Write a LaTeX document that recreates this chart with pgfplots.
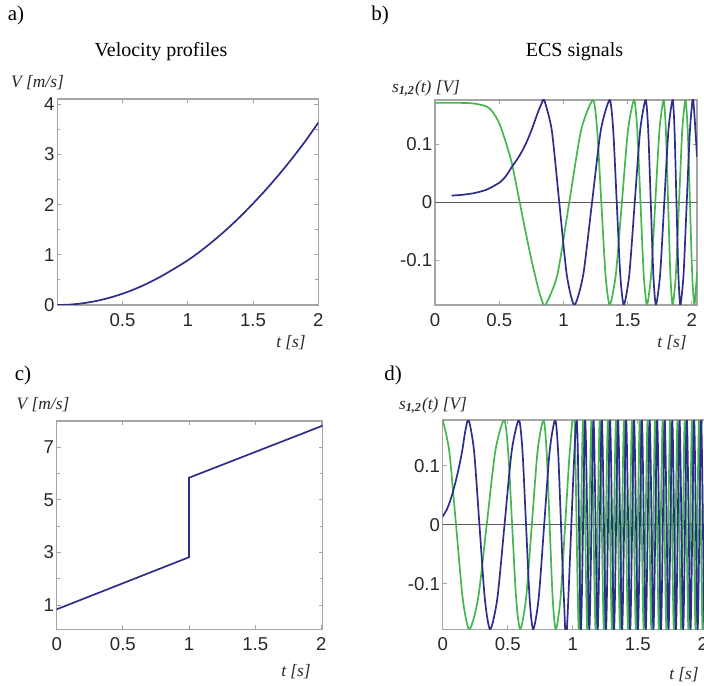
\documentclass[border=0pt]{standalone}
\usepackage{fontspec}
\setmainfont{Liberation Serif}
\setsansfont{Liberation Sans}
\usepackage{pgfplots}
\pgfplotsset{compat=1.18}
\definecolor{sigblue}{RGB}{45,45,140}
\definecolor{siggreen}{RGB}{70,182,80}
\definecolor{boxgray}{RGB}{165,165,165}
\definecolor{zerogray}{RGB}{90,90,90}
\definecolor{ticktext}{RGB}{40,40,40}
\pgfplotsset{
  ecs/.style={
    scale only axis,
    axis line style={draw=boxgray, line width=0.6pt},
    tick style={draw=boxgray, line width=0.5pt},
    major tick length=2pt,
    minor tick length=1.5pt,
    tick align=inside,
    /pgf/number format/assume math mode=true,
    tick label style={font=\fontsize{9.3}{10}\sffamily, text=ticktext},
    xticklabel style={inner sep=1pt, yshift=-3pt},
    yticklabel style={inner sep=1.2pt},
    clip=true,
  },
  sig/.style={line width=0.85pt},
}
\begin{document}
\begin{tikzpicture}[x=0.5pt,y=0.5pt]
% ---------------- a) ----------------
\begin{axis}[ecs, at={(28.65pt,190pt)}, anchor=south west,
  width=130.5pt, height=103pt,
  xmin=0, xmax=2.0, ymin=0, ymax=4.1,
  xtick={0.5,1,1.5,2}, xticklabels={0.5,1,1.5,2},
  ytick={0,1,2,3,4}, yticklabels={0,1,2,3,4},
  minor y tick num=1]
\addplot[sig, sigblue, smooth] coordinates {
(0,0) (0.1,0.009) (0.2,0.036) (0.3,0.081) (0.4,0.144) (0.5,0.225)
(0.6,0.324) (0.7,0.441) (0.8,0.576) (0.9,0.729) (1.0,0.89) (1.1,1.077)
(1.2,1.285) (1.3,1.51) (1.4,1.755) (1.5,2.02) (1.6,2.30) (1.7,2.60)
(1.8,2.92) (1.9,3.26) (2.0,3.63)};
\end{axis}
% ---------------- b) ----------------
\begin{axis}[ecs, at={(217.5pt,190pt)}, anchor=south west,
  width=131pt, height=102.5pt,
  xmin=0, xmax=2.04, ymin=-0.177, ymax=0.177,
  xtick={0,0.5,1,1.5,2}, xticklabels={0,0.5,1,1.5,2},
  ytick={-0.1,0,0.1}, yticklabels={-0.1,0,0.1}]
\addplot[line width=0.6pt, zerogray] coordinates {(0,0) (2.04,0)};
\addplot[sig, siggreen, smooth, tension=0.4] coordinates {
(0,0.172) (0.2,0.172) (0.3,0.171) (0.4,0.166) (0.45,0.156) (0.5,0.137)
(0.55,0.105) (0.6,0.066) (0.66,0.0) (0.7,-0.045) (0.75,-0.098) (0.8,-0.145)
(0.83,-0.168) (0.86,-0.177)
(0.9525,-0.125) (1.045,0) (1.1375,0.125) (1.23,0.177)
(1.2625,0.125) (1.295,0) (1.3275,-0.125) (1.36,-0.177)
(1.4075,-0.125) (1.455,0) (1.5025,0.125) (1.55,0.177)
(1.575,0.125) (1.6,0) (1.625,-0.125) (1.65,-0.177)
(1.6825,-0.125) (1.715,0) (1.7475,0.125) (1.78,0.177)
(1.7975,0.125) (1.815,0) (1.8325,-0.125) (1.85,-0.177)
(1.875,-0.125) (1.9,0) (1.925,0.125) (1.95,0.177)
(1.9675,0.125) (1.985,0) (2.0025,-0.125) (2.02,-0.177)
(2.04,-0.12)};
\addplot[sig, sigblue, smooth, tension=0.4] coordinates {
(0.13,0.012) (0.2,0.013) (0.3,0.016) (0.4,0.022) (0.5,0.034) (0.55,0.045)
(0.6,0.062) (0.65,0.078) (0.7,0.098) (0.75,0.124) (0.8,0.155) (0.83,0.171)
(0.85,0.177)
(0.909,0.125) (0.9675,0) (1.026,-0.125) (1.085,-0.177)
(1.154,-0.125) (1.2225,0) (1.291,0.125) (1.36,0.177)
(1.3875,0.125) (1.415,0) (1.4425,-0.125) (1.47,-0.177)
(1.5125,-0.125) (1.555,0) (1.5975,0.125) (1.64,0.177)
(1.66,0.125) (1.68,0) (1.70,-0.125) (1.72,-0.177)
(1.7525,-0.125) (1.785,0) (1.8175,0.125) (1.85,0.177)
(1.865,0.125) (1.88,0) (1.895,-0.125) (1.91,-0.177)
(1.935,-0.125) (1.96,0) (1.985,0.125) (2.01,0.177)
(2.04,0.079)};
\end{axis}
% ---------------- c) ----------------
\begin{axis}[ecs, at={(28.35pt,27.85pt)}, anchor=south west,
  width=133pt, height=104.2pt,
  xmin=0, xmax=2.01, ymin=0.08, ymax=8.0,
  xtick={0,0.5,1,1.5,2}, xticklabels={0,0.5,1,1.5,2},
  ytick={1,3,5,7}, yticklabels={1,3,5,7},
  minor y tick num=1]
\addplot[sig, sigblue] coordinates {
(0,0.84) (1.0,2.82) (1.0,5.84) (2.01,7.82)};
\end{axis}
% ---------------- d) ----------------
\begin{axis}[ecs, at={(221.35pt,27.85pt)}, anchor=south west,
  width=133.25pt, height=104.6pt,
  xmin=0, xmax=2.05, ymin=-0.177, ymax=0.177,
  xtick={0,0.5,1,1.5,2}, xticklabels={0,0.5,1,1.5,2},
  ytick={-0.1,0,0.1}, yticklabels={-0.1,0,0.1}]
\addplot[line width=0.6pt, zerogray] coordinates {(0,0) (2.05,0)};
\addplot[sig, siggreen, smooth, tension=0.45] coordinates {
(0,0.177) (0.05,0.125) (0.1025,0) (0.154,-0.125) (0.205,-0.177)
(0.272,-0.125) (0.3385,0) (0.405,0.125) (0.472,0.177)
(0.503,0.125) (0.534,0) (0.565,-0.125) (0.596,-0.177)
(0.641,-0.125) (0.6855,0) (0.730,0.125) (0.775,0.177)
(0.799,0.125) (0.8225,0) (0.846,-0.125) (0.87,-0.177)
(0.906,-0.125) (0.942,0) (0.978,0.125) (1.014,0.177)
(1.047,-0.177) (1.080,0.177) (1.112,-0.177) (1.144,0.177) (1.176,-0.177)
(1.208,0.177) (1.240,-0.177) (1.271,0.177) (1.302,-0.177) (1.333,0.177)
(1.364,-0.177) (1.395,0.177) (1.426,-0.177) (1.456,0.177) (1.486,-0.177)
(1.516,0.177) (1.546,-0.177) (1.576,0.177) (1.605,-0.177) (1.634,0.177)
(1.663,-0.177) (1.692,0.177) (1.721,-0.177) (1.750,0.177) (1.778,-0.177)
(1.806,0.177) (1.834,-0.177) (1.862,0.177) (1.890,-0.177) (1.918,0.177)
(1.945,-0.177) (1.972,0.177) (1.999,-0.177) (2.026,0.177) (2.053,-0.177)};
\addplot[sig, sigblue, smooth, tension=0.45] coordinates {
(0,0.014) (0.03,0.025) (0.06,0.042) (0.09,0.065) (0.12,0.092) (0.15,0.125)
(0.175,0.160) (0.2,0.177)
(0.241,0.125) (0.2825,0) (0.324,-0.125) (0.365,-0.177)
(0.42,-0.125) (0.4755,0) (0.531,0.125) (0.586,0.177)
(0.6135,0.125) (0.641,0) (0.6685,-0.125) (0.696,-0.177)
(0.738,-0.125) (0.7805,0) (0.823,0.125) (0.865,0.177)
(0.8875,0.125) (0.91,0) (0.9325,-0.125) (0.955,-0.177)
(1.030,0.177) (1.063,-0.177) (1.096,0.177) (1.128,-0.177) (1.160,0.177)
(1.192,-0.177) (1.224,0.177) (1.256,-0.177) (1.287,0.177) (1.318,-0.177)
(1.349,0.177) (1.380,-0.177) (1.411,0.177) (1.442,-0.177) (1.472,0.177)
(1.502,-0.177) (1.532,0.177) (1.562,-0.177) (1.592,0.177) (1.621,-0.177)
(1.650,0.177) (1.679,-0.177) (1.708,0.177) (1.737,-0.177) (1.766,0.177)
(1.794,-0.177) (1.822,0.177) (1.850,-0.177) (1.878,0.177) (1.906,-0.177)
(1.934,0.177) (1.961,-0.177) (1.988,0.177) (2.015,-0.177) (2.042,0.177)
(2.069,-0.177)};
\end{axis}
% ---------------- texts ----------------
\node[font=\fontsize{10.5}{12}\selectfont] at (16,670) {a)};
\node[font=\fontsize{10.5}{12}\selectfont] at (380,670) {b)};
\node[font=\fontsize{10.5}{12}\selectfont] at (23,310) {c)};
\node[font=\fontsize{10.5}{12}\selectfont] at (393,310) {d)};
\node[font=\fontsize{10}{12}\selectfont] at (161,633) {Velocity profiles};
\node[font=\fontsize{10}{12}\selectfont] at (574.5,633) {ECS signals};
\node[font=\fontsize{8.7}{10}\selectfont\itshape, text=ticktext] at (37.5,602) {V [m/s]};
\node[font=\fontsize{8.7}{10}\selectfont\itshape, text=ticktext] at (43,280) {V [m/s]};
\node[font=\fontsize{8.7}{10}\selectfont\itshape, text=ticktext] at (426,597) {s\textsubscript{\textbf{1,2}}(t) [V]};
\node[font=\fontsize{8.7}{10}\selectfont\itshape, text=ticktext] at (433,280) {s\textsubscript{\textbf{1,2}}(t) [V]};
\node[font=\fontsize{8.7}{10}\selectfont\itshape, text=ticktext] at (291,342) {t [s]};
\node[font=\fontsize{8.7}{10}\selectfont\itshape, text=ticktext] at (672,342) {t [s]};
\node[font=\fontsize{8.7}{10}\selectfont\itshape, text=ticktext] at (296,13) {t [s]};
\node[font=\fontsize{8.7}{10}\selectfont\itshape, text=ticktext] at (684,10) {t [s]};
\pgfresetboundingbox
\path (0,0) rectangle (704,685);
\end{tikzpicture}
\end{document}
